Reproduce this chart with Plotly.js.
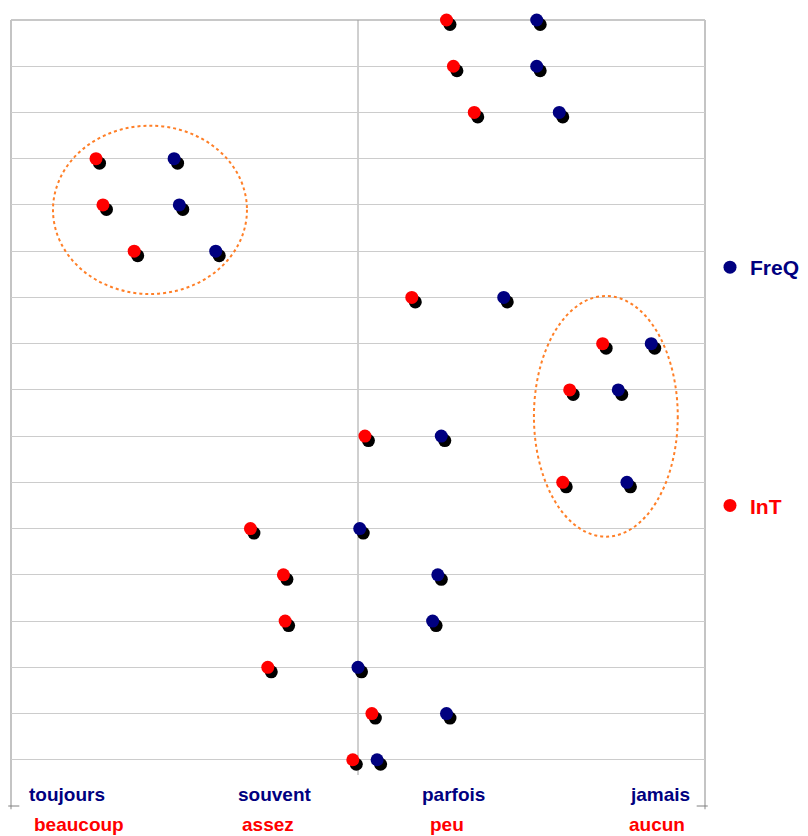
<!DOCTYPE html>
<html><head><meta charset="utf-8">
<script src="https://cdn.plot.ly/plotly-3.0.1.min.js"></script>
<style>body{margin:0;background:#fff}#chart{width:808px;height:836px}</style>
</head><body><div id="chart"></div>
<script>
// Row index (17 = top row, 1 = bottom row)
const rows = [17,16,15,14,13,12,11,10,9,8,7,6,5,4,3,2,1];
// Scale: 1 = toujours / beaucoup ... 4 = jamais / aucun
const freqValues = [3.53,3.53,3.66,1.44,1.47,1.68,3.34,4.19,4.00,2.98,4.05,2.51,2.96,2.93,2.50,3.01,2.61];
const intValues  = [3.01,3.05,3.17,0.99,1.03,1.21,2.81,3.91,3.72,2.54,3.68,1.88,2.07,2.08,1.98,2.58,2.47];
const freqLabels = ['toujours','souvent','parfois','jamais'];
const intLabels  = ['beaucoup','assez','peu','aucun'];
const seriesNames = ['FreQ','InT'];

// styling / layout
const NAVY = '#000080', RED = '#ff0000';
const W = 808, H = 836, ML = 11, MR = 103, MT = 20, MB = 30;
const XR = [0.5, 4.5], YR = [0, 17];
const pxX = (W-ML-MR)/(XR[1]-XR[0]);
const pxY = (H-MT-MB)/(YR[1]-YR[0]);
const dx = 3.5/pxX, dy = 4.5/pxY;  // shadow offset in px
const freqLabelPos = [0.023, 0.324, 0.589, 0.889];
const intLabelPos  = [0.030, 0.330, 0.601, 0.888];

const mk = (c)=>({color:c, size:13, line:{width:0}});
const traces = [
  {x:freqValues, y:rows, xaxis:'x', yaxis:'y', type:'scatter', mode:'markers', marker:mk('#000'), showlegend:false, cliponaxis:false, hoverinfo:'skip'},
  {x:intValues,  y:rows, xaxis:'x', yaxis:'y', type:'scatter', mode:'markers', marker:mk('#000'), showlegend:false, cliponaxis:false, hoverinfo:'skip'},
  {x:freqValues, y:rows, xaxis:'x2', yaxis:'y2', type:'scatter', mode:'markers', marker:mk(NAVY), name:'<b>'+seriesNames[0]+'</b>', legendgroup:'a', cliponaxis:false},
  {x:intValues,  y:rows, xaxis:'x2', yaxis:'y2', type:'scatter', mode:'markers', marker:mk(RED), name:'<span style="color:'+RED+'"><b>'+seriesNames[1]+'</b></span>', legendgroup:'b', cliponaxis:false}
];

const annotations = [];
freqLabels.forEach((t,i)=>annotations.push({text:'<b>'+t+'</b>', xref:'paper', yref:'paper', x:freqLabelPos[i], y:0.014, xanchor:'left', yanchor:'middle', showarrow:false, font:{family:'Liberation Sans, Arial, sans-serif', size:19, color:NAVY}}));
intLabels.forEach((t,i)=>annotations.push({text:'<b>'+t+'</b>', xref:'paper', yref:'paper', x:intLabelPos[i], y:-0.024, xanchor:'left', yanchor:'middle', showarrow:false, font:{family:'Liberation Sans, Arial, sans-serif', size:19, color:RED}}));

const gridY = rows.slice();
const shapes = [
  {type:'line', xref:'x2', yref:'y2', x0:2.5, x1:2.5, y0:0.67, y1:17, line:{color:'#a0a0a0', width:1}, layer:'below'},
  {type:'line', xref:'paper', yref:'paper', x0:0, x1:1, y0:1, y1:1, line:{color:'#c8c8c8', width:2}, layer:'below'},
  {type:'line', xref:'paper', yref:'paper', x0:0, x1:0, y0:-0.004, y1:1, line:{color:'#c4c4c4', width:2}, layer:'below'},
  {type:'line', xref:'paper', yref:'paper', x0:1, x1:1, y0:-0.004, y1:1, line:{color:'#c4c4c4', width:2}, layer:'below'},
  {type:'line', xref:'paper', yref:'paper', x0:-0.004, x1:0.012, y0:0, y1:0, line:{color:'#808080', width:1}},
  {type:'line', xref:'paper', yref:'paper', x0:0.988, x1:1.004, y0:0, y1:0, line:{color:'#808080', width:1}},
  {type:'circle', xref:'x2', yref:'y2', x0:0.742, x1:1.860, y0:11.074, y1:14.714, line:{color:'#ff7f27', width:2, dash:'dot'}},
  {type:'circle', xref:'x2', yref:'y2', x0:3.514, x1:4.343, y0:5.825, y1:11.031, line:{color:'#ff7f27', width:2, dash:'dot'}}
];

const layout = {
  width:W, height:H, margin:{l:ML, r:MR, t:MT, b:MB, autoexpand:false},
  paper_bgcolor:'#fff', plot_bgcolor:'#fff',
  xaxis:{range:[XR[0]-dx, XR[1]-dx], visible:false, fixedrange:true},
  yaxis:{range:[YR[0]+dy, YR[1]+dy], visible:false, fixedrange:true},
  xaxis2:{range:XR, overlaying:'x', showgrid:false, zeroline:false, showticklabels:false, ticks:'', showline:false},
  yaxis2:{range:YR, overlaying:'y', tickvals:gridY, showgrid:true, gridcolor:'#cccccc', gridwidth:1, zeroline:false, showticklabels:false, ticks:'', showline:false},
  showlegend:true,
  legend:{x:(710-ML)/(W-ML-MR), xanchor:'left', y:(806-247)/786, yanchor:'top', traceorder:'grouped', tracegroupgap:208,
          font:{family:'Liberation Sans, Arial, sans-serif', size:21, color:NAVY}, bgcolor:'rgba(0,0,0,0)', itemwidth:30},
  annotations, shapes
};
Plotly.newPlot('chart', traces, layout, {displayModeBar:false, staticPlot:true});
</script></body></html>
